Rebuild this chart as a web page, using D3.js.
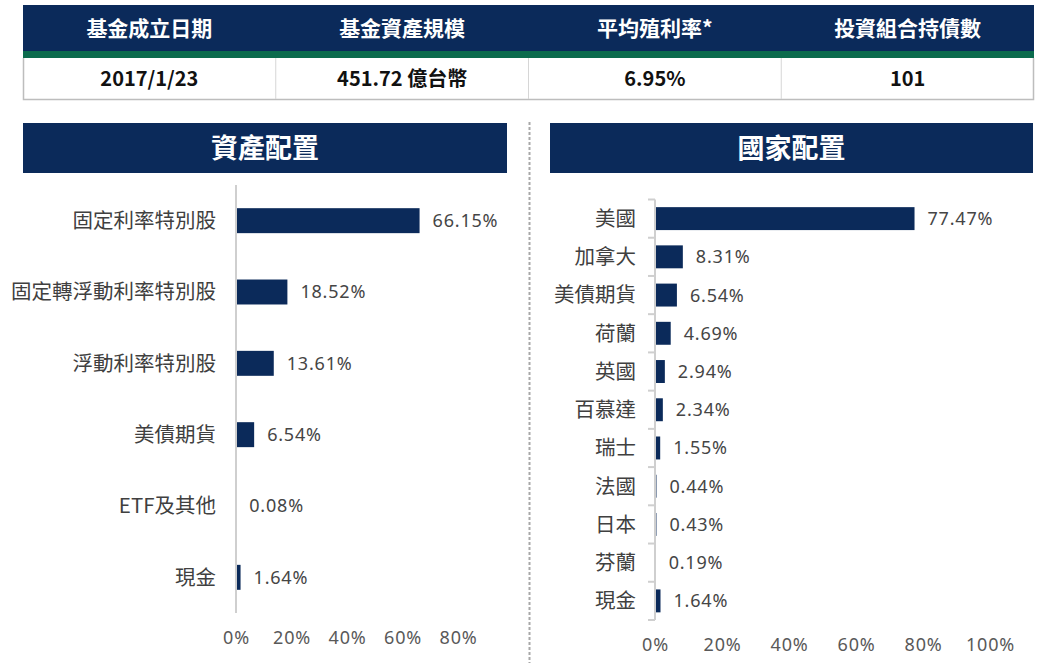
<!DOCTYPE html>
<html><head><meta charset="utf-8">
<script src="https://cdn.jsdelivr.net/npm/d3@7"></script>
<style>
body{margin:0;background:#fff;}
svg{display:block;}
</style></head>
<body><svg id="c" width="1048" height="663"></svg>
<script>
// ---- data ----
const tableHeaders = ["基金成立日期", "基金資產規模", "平均殖利率*", "投資組合持債數"];
const tableValues = ["2017/1/23", "451.72 億台幣", "6.95%", "101"];

const assetTitle = "資產配置";
const assetCategories = ["固定利率特別股", "固定轉浮動利率特別股", "浮動利率特別股", "美債期貨", "ETF及其他", "現金"];
const assetValues = [66.15, 18.52, 13.61, 6.54, 0.08, 1.64];
const assetTicks = [0, 20, 40, 60, 80];

const countryTitle = "國家配置";
const countryCategories = ["美國", "加拿大", "美債期貨", "荷蘭", "英國", "百慕達", "瑞士", "法國", "日本", "芬蘭", "現金"];
const countryValues = [77.47, 8.31, 6.54, 4.69, 2.94, 2.34, 1.55, 0.44, 0.43, 0.19, 1.64];
const countryTicks = [0, 20, 40, 60, 80, 100];

// ---- style ----
const NAVY = "#0b2a5a", GREEN = "#0b6b4d", GRID = "#cfcfcf";
const CJK = "'Noto Sans CJK TC', 'Noto Sans', sans-serif";
const NUM = "'Noto Sans', 'Noto Sans CJK TC', sans-serif";
const svg = d3.select("#c");

// ---- top table ----
const tx = d3.scaleBand().domain(d3.range(tableHeaders.length)).range([23, 1034]);
const tbl = svg.append("g");
tbl.append("rect").attr("x", 23).attr("y", 5).attr("width", 1011).attr("height", 46).attr("fill", NAVY);
tbl.append("rect").attr("x", 23).attr("y", 51).attr("width", 1011).attr("height", 7).attr("fill", GREEN);
tbl.append("path").attr("d", "M23.5,58 V99.5 H1033.5 V58").attr("fill", "none").attr("stroke", "#bdbdbd").attr("stroke-width", 1.5);
tableHeaders.forEach((h, i) => {
  if (i > 0) tbl.append("line").attr("x1", tx(i)).attr("x2", tx(i)).attr("y1", 58).attr("y2", 99)
    .attr("stroke", "#d6d6d6").attr("stroke-width", 1);
  tbl.append("text").attr("x", tx(i) + tx.bandwidth() / 2).attr("y", 28).attr("dy", "0.36em")
    .attr("text-anchor", "middle").attr("fill", "#fff").attr("font-weight", "bold")
    .attr("font-family", "'Liberation Sans Narrow', 'Noto Sans CJK TC', sans-serif").attr("font-size", 21).text(h);
  tbl.append("text").attr("x", tx(i) + tx.bandwidth() / 2).attr("y", 79).attr("dy", "0.36em")
    .attr("text-anchor", "middle").attr("fill", "#111").attr("font-weight", "bold")
    .attr("font-family", "'Liberation Sans Narrow', 'Noto Sans CJK TC', sans-serif").attr("font-size", 20).text(tableValues[i]);
});

// dashed divider
svg.append("line").attr("x1", 529.5).attr("x2", 529.5).attr("y1", 122).attr("y2", 663)
  .attr("stroke", "#a8a8a8").attr("stroke-width", 2).attr("stroke-dasharray", "3,2");

// ---- panel helper ----
function panel(opt) {
  const g = svg.append("g");
  g.append("rect").attr("x", opt.boxX).attr("y", 123).attr("width", opt.boxW).attr("height", 50).attr("fill", NAVY);
  g.append("text").attr("x", opt.boxX + opt.boxW / 2).attr("y", 148).attr("dy", "0.36em")
    .attr("text-anchor", "middle").attr("fill", "#fff").attr("font-weight", "bold")
    .attr("font-family", CJK).attr("font-size", 27).text(opt.title);

  const x = d3.scaleLinear().domain([0, opt.max]).range([opt.x0, opt.x1]);
  const y = d3.scaleBand().domain(opt.cats).range([opt.y0, opt.y1]).paddingInner(opt.pad).paddingOuter(opt.pad / 2);

  // bars
  g.selectAll("rect.bar").data(opt.vals).join("rect").attr("class", "bar")
    .attr("x", x(0)).attr("y", (d, i) => y(opt.cats[i]))
    .attr("width", d => x(d) - x(0)).attr("height", y.bandwidth()).attr("fill", NAVY);

  // vertical axis
  const ya = d3.axisLeft(y).tickSize(0).tickFormat("");
  const ag = g.append("g").attr("transform", `translate(${x(0)},0)`).call(ya);
  ag.select(".domain").attr("stroke", GRID).attr("stroke-width", 2).attr("d", `M0,${opt.y0}V${opt.y1}`);
  if (opt.boundaryTicks) {
    const step = y.step();
    g.selectAll("line.bt").data(d3.range(opt.cats.length + 1)).join("line").attr("class", "bt")
      .attr("x1", x(0) - 7).attr("x2", x(0)).attr("y1", i => opt.y0 + i * step).attr("y2", i => opt.y0 + i * step)
      .attr("stroke", GRID).attr("stroke-width", 2);
  }

  // category labels
  g.selectAll("text.cat").data(opt.cats).join("text").attr("class", "cat")
    .attr("x", opt.labelX).attr("y", d => y(d) + y.bandwidth() / 2).attr("dy", "0.36em")
    .attr("text-anchor", "end").attr("fill", "#404040").attr("font-family", CJK).attr("font-size", 20.5).text(d => d);

  // value labels
  g.selectAll("text.val").data(opt.vals).join("text").attr("class", "val")
    .attr("x", d => x(d) + 13).attr("y", (d, i) => y(opt.cats[i]) + y.bandwidth() / 2).attr("dy", "0.36em")
    .attr("fill", "#454545").attr("font-family", NUM).attr("font-size", 18).attr("letter-spacing", 0.8)
    .text(d => d.toFixed(2) + "%");

  // x axis tick labels
  const xa = d3.axisBottom(x).tickValues(opt.ticks).tickSize(0).tickPadding(0).tickFormat(d => d + "%");
  const xg = g.append("g").attr("transform", `translate(0,${opt.tickY})`).call(xa);
  xg.select(".domain").remove();
  xg.selectAll("text").attr("fill", "#595959").attr("font-family", NUM).attr("font-size", 18)
    .attr("letter-spacing", 0.8).attr("dy", "0.36em");
}

panel({title: assetTitle, boxX: 23, boxW: 484, cats: assetCategories, vals: assetValues, ticks: assetTicks,
  max: 80, x0: 236, x1: 458, y0: 185, y1: 613, pad: 0.65, labelX: 216, tickY: 638, boundaryTicks: false});
panel({title: countryTitle, boxX: 550, boxW: 483, cats: countryCategories, vals: countryValues, ticks: countryTicks,
  max: 100, x0: 655, x1: 990, y0: 199.5, y1: 620, pad: 0.4, labelX: 636, tickY: 645, boundaryTicks: true});
</script></body></html>
